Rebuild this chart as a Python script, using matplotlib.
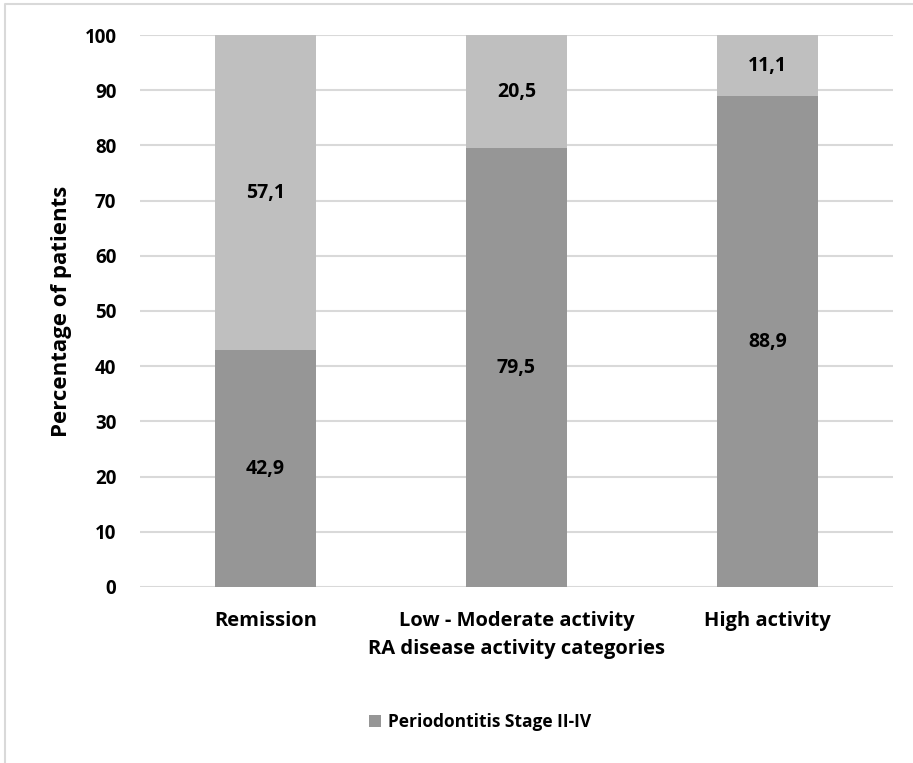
import numpy as np
import matplotlib.pyplot as plt
from matplotlib.lines import Line2D

categories = ["Remission", "Low - Moderate activity", "High activity"]
stage_2_4 = [42.9, 79.5, 88.9]
stage_0_1 = [57.1, 20.5, 11.1]
yticks = [0, 10, 20, 30, 40, 50, 60, 70, 80, 90, 100]

dark = "#969696"
light = "#bfbfbf"

plt.rcParams["font.family"] = ["Open Sans", "DejaVu Sans"]
plt.rcParams["font.weight"] = "bold"

fig = plt.figure(figsize=(9.13, 7.63), dpi=100)
ax = fig.add_axes([0.1533, 0.2307, 0.8247, 0.7234])

x = np.arange(len(categories))
b1 = ax.bar(x, stage_2_4, width=0.4, color=dark, zorder=2, label="Periodontitis Stage II-IV")
b2 = ax.bar(x, stage_0_1, width=0.4, bottom=stage_2_4, color=light, zorder=2)

for bars, vals, base in [(b1, stage_2_4, [0, 0, 0]), (b2, stage_0_1, stage_2_4)]:
    for rect, v, b in zip(bars, vals, base):
        ax.text(rect.get_x() + rect.get_width() / 2, b + v / 2,
                f"{v:.1f}".replace(".", ","), ha="center", va="center",
                fontsize=14, fontweight="bold", color="black", zorder=3)

ax.set_xlim(-0.5, 2.5)
ax.set_ylim(0, 100)
ax.set_yticks(yticks)
ax.set_xticks(x)
ax.set_xticklabels(categories)
ax.tick_params(axis="y", length=0, labelsize=13.5, pad=17)
ax.tick_params(axis="x", length=0, labelsize=14.5, pad=17)
for lab in ax.get_xticklabels() + ax.get_yticklabels():
    lab.set_fontweight("bold")

ax.yaxis.grid(True, color="#d9d9d9", linewidth=1.5, zorder=0)
for s in ax.spines.values():
    s.set_visible(False)

ax.set_ylabel("Percentage of patients", fontsize=16, fontweight="bold", labelpad=9)
ax.set_xlabel("RA disease activity categories", fontsize=14.5, fontweight="bold", labelpad=6)

fig.legend(handles=[b1], loc="center", bbox_to_anchor=(0.526, 0.054), frameon=False,
           handlelength=0.7, handleheight=0.7, handletextpad=0.4,
           prop={"weight": "bold", "size": 12.5})

# chart border (top and left edges)
fig.add_artist(Line2D([5 / 913, 5 / 913, 1.0], [0.0, 1 - 4 / 763, 1 - 4 / 763],
                      transform=fig.transFigure, color="#d9d9d9", linewidth=1.5))

fig.savefig("out.png", dpi=100)
